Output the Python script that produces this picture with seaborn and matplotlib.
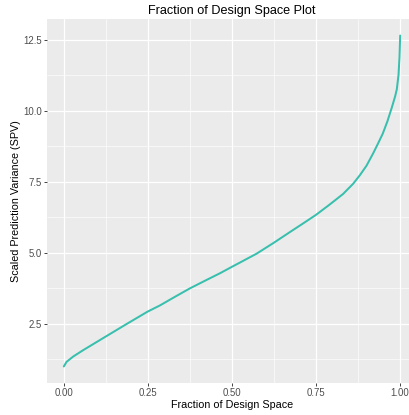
import matplotlib
matplotlib.use("Agg")
import matplotlib.pyplot as plt
import seaborn as sns
import pandas as pd
from matplotlib.ticker import MultipleLocator

fraction = [0.0, 0.008, 0.028, 0.057, 0.127, 0.186, 0.249, 0.286, 0.330, 0.375,
            0.420, 0.464, 0.5, 0.524, 0.554, 0.573, 0.625, 0.672, 0.712, 0.75,
            0.787, 0.80, 0.83, 0.86, 0.88, 0.90, 0.92, 0.935, 0.948, 0.962,
            0.975, 0.985, 0.99, 0.995, 0.998, 1.0]
spv = [0.99, 1.15, 1.34, 1.56, 2.06, 2.48, 2.92, 3.14, 3.44, 3.74,
       4.01, 4.27, 4.50, 4.65, 4.84, 4.96, 5.35, 5.72, 6.03, 6.33,
       6.66, 6.78, 7.06, 7.42, 7.72, 8.06, 8.50, 8.86, 9.18, 9.62,
       10.1, 10.5, 10.75, 11.25, 11.88, 12.64]
x_ticks = [0.0, 0.25, 0.5, 0.75, 1.0]
x_tick_labels = ["0.00", "0.25", "0.50", "0.75", "1.00"]
y_ticks = [2.5, 5.0, 7.5, 10.0, 12.5]
y_tick_labels = ["2.5", "5.0", "7.5", "10.0", "12.5"]

df = pd.DataFrame({"fraction": fraction, "spv": spv})

sns.set_theme(style="darkgrid")
plt.rcParams['font.family'] = ['Liberation Sans', 'DejaVu Sans']

W, H = 409, 415
DPI = 72
fig = plt.figure(figsize=(W / DPI, H / DPI), dpi=DPI)
fig.patch.set_facecolor("white")
left, right, top, bottom = 47, 417, 19, 383
ax = fig.add_axes([left / W, (H - bottom) / H, (right - left) / W, (bottom - top) / H])
ax.set_facecolor("#EBEBEB")

sns.lineplot(data=df, x="fraction", y="spv", ax=ax, color="#38BFAD", linewidth=2.0)
for ln in ax.lines:
    ln.set_solid_joinstyle("round")

xr = max(fraction) - min(fraction)
yr = max(spv) - min(spv)
ax.set_xlim(min(fraction) - 0.05 * xr, max(fraction) + 0.05 * xr)
ax.set_ylim(min(spv) - 0.05 * yr, max(spv) + 0.05 * yr)

ax.set_xticks(x_ticks)
ax.set_xticklabels(x_tick_labels)
ax.set_yticks(y_ticks)
ax.set_yticklabels(y_tick_labels)
ax.xaxis.set_minor_locator(MultipleLocator(0.125))
ax.yaxis.set_minor_locator(MultipleLocator(1.25))

ax.grid(which="major", color="white", linewidth=1.3)
ax.grid(which="minor", color="white", linewidth=0.6)
ax.set_axisbelow(True)
for s in ax.spines.values():
    s.set_visible(False)

ax.tick_params(axis="both", which="major", length=2.75, width=0.9, color="#333333",
               labelcolor="#4D4D4D", labelsize=9.6, pad=2.5, direction="out",
               bottom=True, left=True)
ax.tick_params(axis="both", which="minor", length=0)

ax.set_xlabel("Fraction of Design Space", fontsize=10.8, color="black", labelpad=2)
ax.set_ylabel("Scaled Prediction Variance (SPV)", fontsize=10.8, color="black", labelpad=1.5)
ax.set_title("Fraction of Design Space Plot", fontsize=12.6, color="black", pad=5)

fig.savefig("out.png", dpi=DPI)
